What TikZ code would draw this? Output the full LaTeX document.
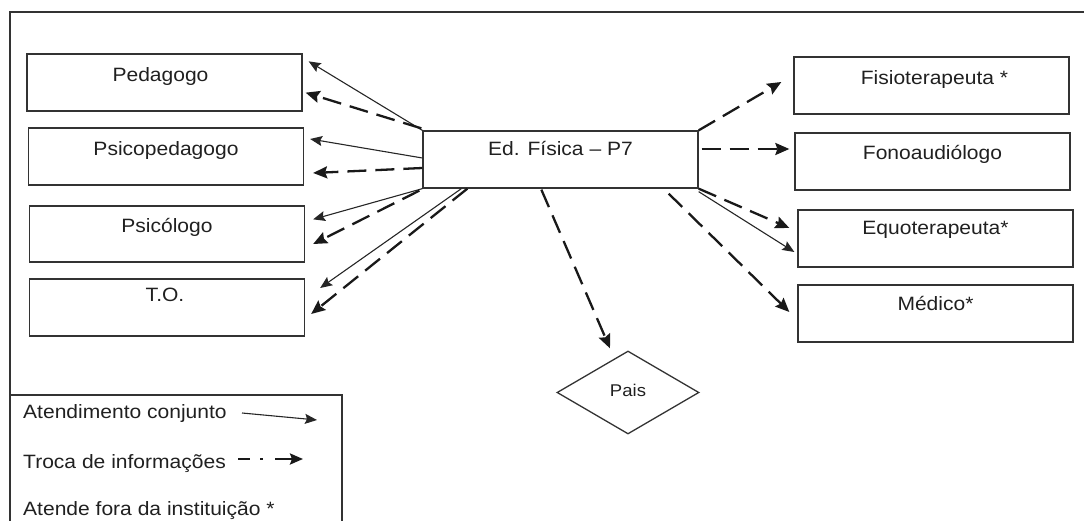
\documentclass[tikz,border=0pt]{standalone}
\usepackage{fontspec}
\setmainfont{Liberation Sans}[FakeStretch=1.09]
\usetikzlibrary{arrows.meta,calc,shapes.geometric}
\definecolor{ln}{HTML}{333333}
\definecolor{tx}{HTML}{202020}
\tikzset{
  frame/.style={draw=ln, line width=1.3pt},
  box/.style={draw=ln, line width=1.3pt, minimum width=275pt, minimum height=57pt, inner sep=0pt},
  lbl/.style={anchor=base, text=tx, font=\fontsize{19.3}{23}\selectfont, inner sep=0pt},
  legtext/.style={anchor=base west, text=tx, font=\fontsize{19.3}{23}\selectfont, inner sep=0pt},
  joint/.style={draw=black!85, line width=1.1pt, -{Stealth[length=12pt,width=10pt,inset=2pt]}},
  info/.style={draw=black!90, line width=2.3pt, dash pattern=on 19pt off 9pt, -{Stealth[length=14pt,width=12pt,inset=2pt]}},
  legdash/.style={draw=black!90, line width=2.4pt, dash pattern=on 12pt off 10pt on 3pt off 12pt on 40pt, -{Stealth[length=13pt,width=11pt,inset=2pt]}},
}
\begin{document}
\begin{tikzpicture}[x=1pt,y=-1pt]
\useasboundingbox (0,0) rectangle (1084,521);
\draw[frame] (10,530) -- (10,12) -- (1090,12);

% boxes
\node[box] (ped) at (164.5,82.5) {};
\node[box] (psp) at (166,156.5) {};
\node[box, minimum height=56pt] (psi) at (167,234) {};
\node[box] (to) at (167,307.5) {};
\node[box] (ed) at (560.5,159.5) {};
\node[box] (fis) at (931.5,85.5) {};
\node[box] (fon) at (932.5,161.5) {};
\node[box] (equ) at (935.5,238.5) {};
\node[box] (med) at (935.5,313.5) {};
\node[diamond, draw=ln, line width=1.3pt, minimum width=142pt, minimum height=83pt, inner sep=0pt] (pais) at (628,392.5) {};

% labels
\node[lbl] (pedt) at ($(ped.north)+(-4,28)$) {Pedagogo};
\node[lbl] (pspt) at ($(psp.north)+(0,28.5)$) {Psicopedagogo};
\node[lbl] (psit) at ($(psi.north)+(0,27)$) {Psicólogo};
\node[lbl] (tot) at ($(to.north)+(-2,23)$) {T.O.};
\node[lbl] (edt) at ($(ed.north)+(0,24.7)$) {Ed. Física – P7};
\node[lbl] (fist) at ($(fis.north)+(3,28)$) {Fisioterapeuta *};
\node[lbl] (font) at ($(fon.north)+(0,27)$) {Fonoaudiólogo};
\node[lbl] (equt) at ($(equ.north)+(0,25)$) {Equoterapeuta*};
\node[lbl] (medt) at ($(med.north)+(0,26)$) {Médico*};
\node[anchor=base, text=tx, font=\fontsize{17}{20}\selectfont, inner sep=0pt] (paist) at ($(pais.center)+(0,3.5)$) {Pais};

% connectors
\draw[joint] (ed.north west) -- ($(ped.north east)+(6,8)$);
\draw[info] ($(ed.north west)+(-1,-2)$) -- ($(ped.south east)+(3,-19)$);
\draw[joint] ($(ed.west)+(0,-1.5)$) -- ($(psp.east)+(6,-17.5)$);
\draw[info] ($(ed.west)+(0,8.5)$) -- ($(psp.east)+(9,16.5)$);
\draw[joint] (ed.south west) -- ($(psi.north east)+(8,14)$);
\draw[info] ($(ed.south west)+(-3,2)$) -- ($(psi.east)+(8,10)$);
\draw[joint] ($(ed.south west)+(39,0)$) -- ($(to.east)+(15,-19.5)$);
\draw[info] ($(ed.south west)+(45,0)$) -- ($(to.east)+(6,6.5)$);
\draw[info] ($(ed.south west)+(119,1)$) -- ($(pais.north)+(-18,-2)$);
\draw[info] (ed.north east) -- ($(fis.west)+(-12,-3.5)$);
\draw[info] ($(ed.east)+(3,-10.5)$) -- ($(fon.west)+(-5,-12.5)$);
\draw[info] (ed.south east) -- ($(equ.west)+(-8,-10.5)$);
\draw[joint] ($(ed.south east)+(0,3)$) -- ($(equ.west)+(-3,13.5)$);
\draw[info] ($(ed.south east)+(-30,5)$) -- ($(med.west)+(-8,-1.5)$);

% legend
\draw[frame] (10,395) -- (342,395) -- (342,530);
\node[legtext] (l1) at (23,418.3) {Atendimento conjunto};
\node[legtext] (l2) at (23,468.3) {Troca de informações};
\node[legtext] (l3) at (23,515) {Atende fora da instituição *};
\coordinate (a1s) at (242,413);
\coordinate (a1e) at (317,420);
\draw[joint] (a1s) -- (a1e);
\coordinate (a2s) at (238,459);
\coordinate (a2e) at (303,459);
\draw[legdash] (a2s) -- (a2e);
\end{tikzpicture}
\end{document}
